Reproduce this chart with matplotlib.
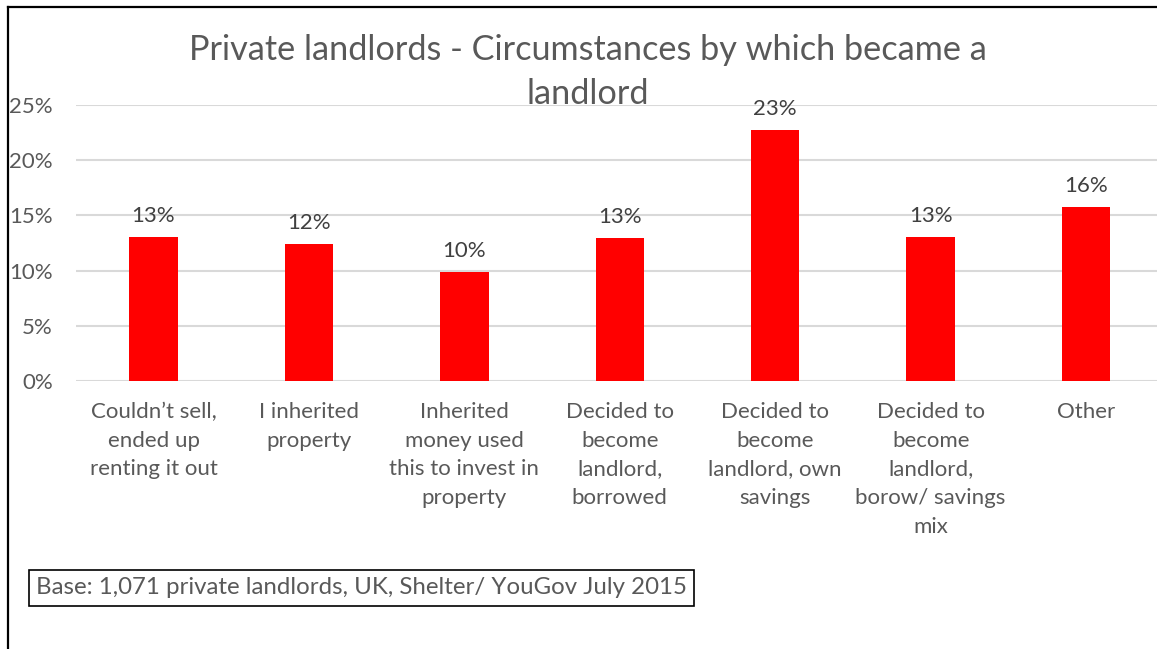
import matplotlib
matplotlib.use("Agg")
import matplotlib.pyplot as plt
from matplotlib.lines import Line2D
from matplotlib.ticker import PercentFormatter

# Survey results: how private landlords came to let property
categories = [
    "Couldn\u2019t sell,\nended up\nrenting it out",
    "I inherited\nproperty",
    "Inherited\nmoney used\nthis to invest in\nproperty",
    "Decided to\nbecome\nlandlord,\nborrowed",
    "Decided to\nbecome\nlandlord, own\nsavings",
    "Decided to\nbecome\nlandlord,\nborow/ savings\nmix",
    "Other",
]
shares = [0.130, 0.124, 0.0985, 0.1295, 0.2275, 0.1305, 0.158]
y_ticks = [0.0, 0.05, 0.10, 0.15, 0.20, 0.25]

title_lines = ["Private landlords - Circumstances by which became a", "landlord"]
footnote = "Base: 1,071 private landlords, UK, Shelter/ YouGov July 2015"

plt.rcParams["font.family"] = ["Lato", "DejaVu Sans"]
TEXT = "#595959"
GRID = "#D9D9D9"
BAR = "#FF0000"

W, H = 1157, 649
fig = plt.figure(figsize=(W / 100, H / 100), dpi=100)
fig.patch.set_facecolor("white")

ax = fig.add_axes([75.8 / W, 1 - 381 / H, 1088 / W, 276 / H])
x = list(range(len(categories)))
bars = ax.bar(x, shares, width=0.312, color=BAR, zorder=3)

ax.set_xlim(-0.5, len(categories) - 0.5)
ax.set_ylim(0, 0.25)
ax.set_yticks(y_ticks)
ax.yaxis.set_major_formatter(PercentFormatter(1.0, decimals=0))
ax.set_xticks(x)
ax.set_xticklabels(categories, linespacing=1.55)
ax.grid(axis="y", color=GRID, linewidth=1.5, zorder=0)
for s in ax.spines.values():
    s.set_visible(False)
ax.tick_params(axis="both", length=0, colors=TEXT, labelsize=16)
ax.tick_params(axis="y", pad=16.5)
ax.tick_params(axis="x", pad=15)
for lbl in ax.get_xticklabels():
    lbl.set_verticalalignment("top")

for rect, v in zip(bars, shares):
    ax.annotate(f"{v:.0%}", (rect.get_x() + rect.get_width() / 2, v),
                xytext=(0, 11), textcoords="offset pixels",
                ha="center", va="bottom", fontsize=16, color="#404040")

# two-line chart title, one text per line
for line, y_px in zip(title_lines, [50, 94]):
    fig.text(588 / W, 1 - y_px / H, line, ha="center", va="center",
             fontsize=24.7, color=TEXT)

fig.text(36 / W, 1 - 588 / H, footnote, ha="left", va="center",
         fontsize=17.3, color=TEXT,
         bbox=dict(boxstyle="square,pad=0.3", facecolor="white",
                   edgecolor="black", linewidth=1.2))

# frame edges along the top and left of the canvas
fig.add_artist(Line2D([8 / W, 1], [1 - 7 / H, 1 - 7 / H], color="black", linewidth=1.6))
fig.add_artist(Line2D([8 / W, 8 / W], [0, 1 - 7 / H], color="black", linewidth=1.6))

fig.savefig("out.png", dpi=100, facecolor="white")
